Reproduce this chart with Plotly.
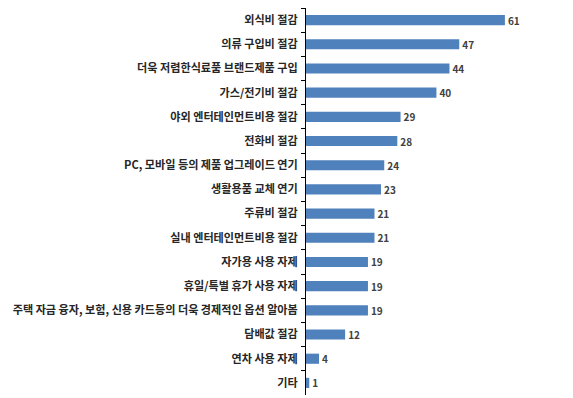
import plotly.graph_objects as go

categories = [
    "외식비 절감",
    "의류 구입비 절감",
    "더욱 저렴한식료품 브랜드제품 구입",
    "가스/전기비 절감",
    "야외 엔터테인먼트비용 절감",
    "전화비 절감",
    "PC, 모바일 등의 제품 업그레이드 연기",
    "생활용품 교체 연기",
    "주류비 절감",
    "실내 엔터테인먼트비용 절감",
    "자가용 사용 자제",
    "휴일/특별 휴가 사용 자제",
    "주택 자금 융자, 보험, 신용 카드등의 더욱 경제적인 옵션 알아봄",
    "담배값 절감",
    "연차 사용 자제",
    "기타",
]
values = [61, 47, 44, 40, 29, 28, 24, 23, 21, 21, 19, 19, 19, 12, 4, 1]

fig = go.Figure(
    go.Bar(
        x=values,
        y=categories,
        orientation="h",
        marker=dict(color="#4F81BD", line=dict(width=0)),
        width=0.42,
        text=[str(v) for v in values],
        textposition="outside",
        constraintext="none",
        textfont=dict(family="Noto Sans CJK KR", size=10, color="#404040", weight="bold"),
        cliponaxis=False,
    )
)

fig.update_layout(
    width=565,
    height=390,
    margin=dict(l=298, r=13, t=0, b=3),
    paper_bgcolor="white",
    plot_bgcolor="white",
    showlegend=False,
    font=dict(family="Noto Sans CJK KR"),
    xaxis=dict(range=[0, 77.9], visible=False),
    yaxis=dict(
        autorange="reversed",
        automargin=False,
        showline=True,
        linecolor="black",
        linewidth=1,
        ticks="outside",
        ticklen=4,
        tickcolor="black",
        tickson="boundaries",
        ticklabelstandoff=5,
        tickfont=dict(family="Noto Sans CJK KR", size=11.1, color="#262626", weight="bold"),
        showgrid=False,
    ),
)

fig.write_html("out.html")
